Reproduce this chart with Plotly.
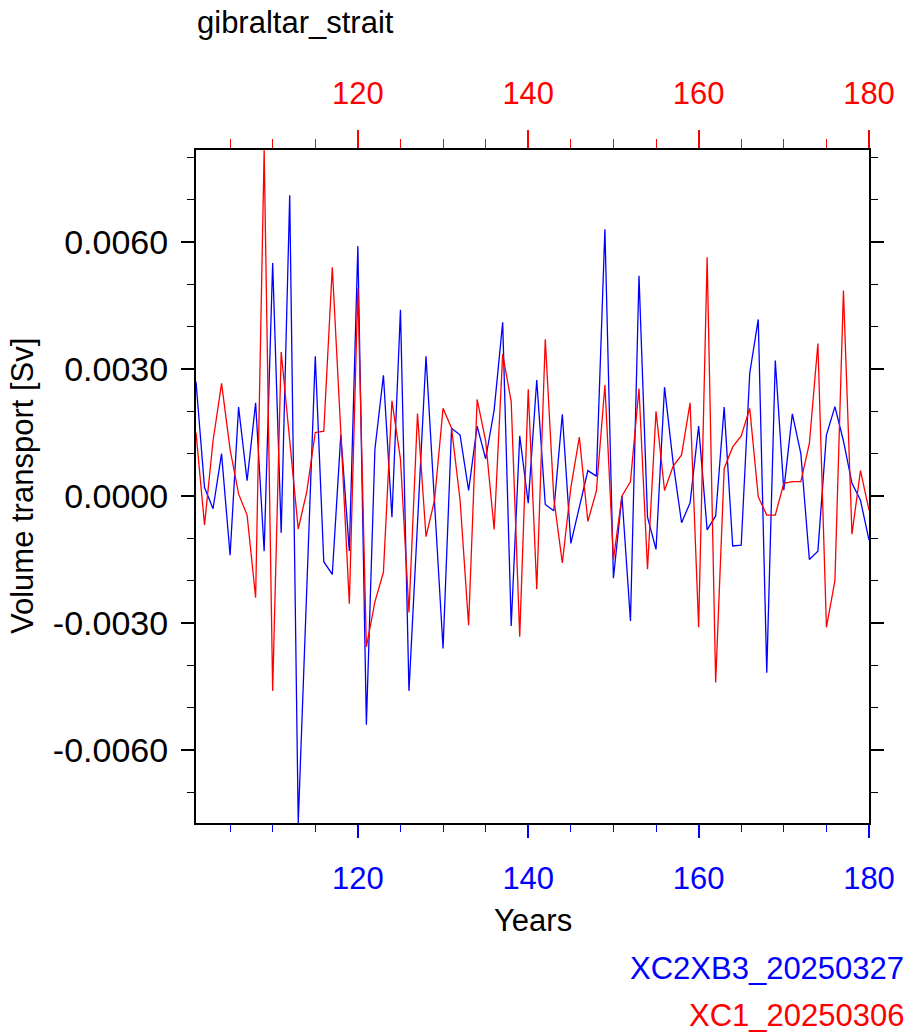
import plotly.graph_objects as go

years = list(range(101, 181))

xc2xb3 = [
    0.0027, 0.0002, -0.0003, 0.0010, -0.0014, 0.0021, 0.00036, 0.0022, -0.0013, 0.0055,
    -0.00087, 0.0071, -0.00772, -0.0022, 0.0033, -0.00155, -0.00185, 0.00145, -0.0013, 0.0059,
    -0.0054, 0.0011, 0.00285, -0.0005, 0.0044, -0.0046, -0.0006, 0.0033, -0.00016, -0.0036,
    0.0016, 0.00144, 0.00013, 0.00165, 0.00088, 0.00203, 0.0041, -0.00307, 0.00142, -0.00017,
    0.00274, -0.0002, -0.00035, 0.00193, -0.00112, -0.00025, 0.0006, 0.00047, 0.0063, -0.00194,
    0.0000, -0.00295, 0.0052, -0.0005, -0.00126, 0.00257, 0.0008, -0.00063, -0.00016, 0.00165,
    -0.0008, -0.00047, 0.0021, -0.00118, -0.00116, 0.0029, 0.00417, -0.00417, 0.0032, 0.00014,
    0.00194, 0.0010, -0.0015, -0.0013, 0.00144, 0.00211, 0.0013, 0.0003, -0.0001, -0.00104,
]

xc1 = [
    0.0015, -0.00068, 0.0013, 0.00266, 0.0011, 0.00005, -0.00045, -0.0024, 0.00817, -0.0046,
    0.0034, 0.0013, -0.00078, 0.0001, 0.0015, 0.00153, 0.0054, 0.0015, -0.00254, 0.0049,
    -0.00356, -0.0025, -0.0018, 0.00225, 0.00087, -0.00275, 0.00195, -0.00096, -0.0001, 0.00207,
    0.0016, -0.0001, -0.00305, 0.00228, 0.0013, -0.00079, 0.00335, 0.00223, -0.00332, 0.00252,
    -0.0022, 0.0037, -0.00005, -0.00158, 0.0002, 0.00139, -0.0006, 0.00012, 0.00262, -0.0015,
    0.0000, 0.00034, 0.00254, -0.00173, 0.0020, 0.00013, 0.0007, 0.00097, 0.0022, -0.0031,
    0.00564, -0.0044, 0.00065, 0.00116, 0.00142, 0.00207, -0.00002, -0.00045, -0.00045, 0.0003,
    0.00034, 0.00034, 0.00124, 0.0036, -0.0031, -0.0020, 0.00485, -0.0009, 0.0006, -0.00033,
]

x_tickvals = [120, 140, 160, 180]
y_tickvals = [-0.006, -0.003, 0.0, 0.003, 0.006]
y_ticktext = ["-0.0060", "-0.0030", "0.0000", "0.0030", "0.0060"]

FONT = "Liberation Sans, Arial, Helvetica, sans-serif"
FS = 31

plot_l, plot_r, plot_t, plot_b = 196, 869, 150, 823
pw, ph = plot_r - plot_l, plot_b - plot_t


def px2paper(px, py):
    return (px - plot_l) / pw, (plot_b - py) / ph


fig = go.Figure()
fig.add_trace(go.Scatter(x=years, y=xc2xb3, mode="lines", xaxis="x", yaxis="y",
                         line=dict(color="#0000ff", width=1.3), showlegend=False))
fig.add_trace(go.Scatter(x=years, y=xc1, mode="lines", xaxis="x2", yaxis="y",
                         line=dict(color="#ff0000", width=1.3), showlegend=False))

anns = []
for text, (px, py), color, xa, rot in [
    ("gibraltar_strait", (195, 22), "black", "left", 0),
    ("Years", (533, 920), "black", "center", 0),
    ("XC2XB3_20250327", (906, 968), "#0000ff", "right", 0),
    ("XC1_20250306", (906, 1016), "#ff0000", "right", 0),
    ("Volume transport [Sv]", (22, 486), "black", "center", -90),
]:
    ax, ay = px2paper(px, py)
    anns.append(dict(text=text, x=ax, y=ay, xref="paper", yref="paper",
                     showarrow=False, xanchor=xa, yanchor="middle", textangle=rot,
                     font=dict(size=FS, color=color, family=FONT)))

fig.update_layout(
    width=909, height=1036,
    margin=dict(l=plot_l, r=909 - plot_r, t=plot_t, b=1036 - plot_b),
    paper_bgcolor="white", plot_bgcolor="white",
    font=dict(family=FONT, size=FS, color="black"),
    xaxis=dict(
        range=[101, 180], tickvals=x_tickvals, side="bottom",
        showline=True, linecolor="black", linewidth=2,
        ticks="outside", ticklen=13, tickwidth=1.5, tickcolor="#0000ff",
        tickfont=dict(color="#0000ff", size=FS, family=FONT),
        minor=dict(dtick=5, tick0=100, ticks="outside", ticklen=7, tickwidth=1.2, tickcolor="#0000ff"),
        showgrid=False, zeroline=False, ticklabelstandoff=14,
    ),
    xaxis2=dict(
        range=[101, 180], tickvals=x_tickvals, side="top", overlaying="x", anchor="y",
        showline=True, linecolor="black", linewidth=2,
        ticks="outside", ticklen=18, tickwidth=1.5, tickcolor="#ff0000",
        tickfont=dict(color="#ff0000", size=FS, family=FONT),
        minor=dict(dtick=5, tick0=100, ticks="outside", ticklen=9, tickwidth=1.2, tickcolor="#ff0000"),
        showgrid=False, zeroline=False, ticklabelstandoff=14,
    ),
    yaxis=dict(
        range=[-0.00772, 0.00817], tickvals=y_tickvals, ticktext=y_ticktext,
        tickfont=dict(size=34, family=FONT, color="black"),
        showline=True, linecolor="black", linewidth=2, mirror="ticks",
        ticks="outside", ticklen=13, tickwidth=1.5, tickcolor="black",
        minor=dict(dtick=0.001, tick0=0, ticks="outside", ticklen=7, tickwidth=1.2, tickcolor="black"),
        showgrid=False, zeroline=False, ticklabelstandoff=6,
    ),
    annotations=anns,
)

fig.write_html("out.html")
